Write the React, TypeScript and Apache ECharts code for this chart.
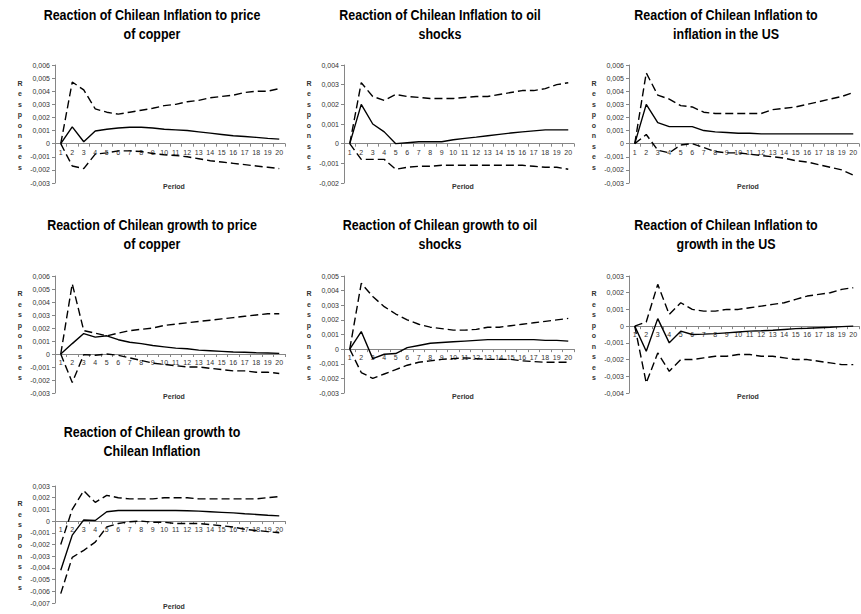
import React, { useEffect, useRef } from 'react';
import * as echarts from 'echarts';

const periods = ['1', '2', '3', '4', '5', '6', '7', '8', '9', '10', '11', '12', '13', '14', '15', '16', '17', '18', '19', '20'];

const panelTitles = [
  'Reaction of Chilean Inflation to price\nof copper',
  'Reaction of Chilean Inflation to oil\nshocks',
  'Reaction of Chilean Inflation to\ninflation in the US',
  'Reaction of Chilean growth to price\nof copper',
  'Reaction of Chilean growth to oil\nshocks',
  'Reaction of Chilean Inflation to\ngrowth in the US',
  'Reaction of Chilean growth to\nChilean Inflation',
];

const yMins = [-0.003, -0.002, -0.003, -0.003, -0.003, -0.004, -0.007];
const yMaxs = [0.006, 0.004, 0.006, 0.006, 0.005, 0.003, 0.003];

// Panel 1: Chilean inflation to price of copper
const inflCopperResp = [0, 0.00128, 0.00015, 0.00097, 0.0011, 0.0012, 0.00125, 0.00125, 0.0012, 0.0011, 0.00105, 0.001, 0.0009, 0.0008, 0.0007, 0.0006, 0.00055, 0.00048, 0.0004, 0.00035];
const inflCopperUpper = [0, 0.0047, 0.0041, 0.00265, 0.0024, 0.00225, 0.0024, 0.00255, 0.0027, 0.0029, 0.003, 0.0032, 0.0033, 0.0035, 0.0036, 0.0037, 0.0039, 0.004, 0.004, 0.0042];
const inflCopperLower = [0, -0.0017, -0.0019, -0.0008, -0.0007, -0.00055, -0.00055, -0.0006, -0.00075, -0.00085, -0.0009, -0.001, -0.00115, -0.0013, -0.0014, -0.0015, -0.0016, -0.0017, -0.0018, -0.0019];

// Panel 2: Chilean inflation to oil shocks
const inflOilResp = [0, 0.002, 0.001, 0.0006, 0, 0.00005, 0.0001, 0.0001, 0.0001, 0.0002, 0.00027, 0.00033, 0.0004, 0.00047, 0.00054, 0.0006, 0.00065, 0.0007, 0.0007, 0.0007];
const inflOilUpper = [0, 0.0031, 0.0024, 0.0022, 0.0025, 0.0024, 0.00235, 0.0023, 0.0023, 0.0023, 0.00235, 0.0024, 0.0024, 0.0025, 0.0026, 0.0027, 0.0027, 0.0028, 0.003, 0.0031];
const inflOilLower = [0, -0.0008, -0.0008, -0.0008, -0.0013, -0.0012, -0.00115, -0.00115, -0.0011, -0.0011, -0.0011, -0.0011, -0.0011, -0.0011, -0.0011, -0.0011, -0.00115, -0.0012, -0.0012, -0.0013];

// Panel 3: Chilean inflation to inflation in the US
const inflUsInflResp = [0, 0.003, 0.0016, 0.0013, 0.0013, 0.0013, 0.001, 0.0009, 0.00085, 0.0008, 0.0008, 0.00075, 0.00075, 0.00075, 0.00075, 0.00075, 0.00075, 0.00075, 0.00075, 0.00075];
const inflUsInflUpper = [0, 0.0054, 0.0037, 0.0034, 0.0029, 0.0028, 0.0024, 0.0023, 0.0023, 0.0023, 0.0023, 0.0023, 0.0026, 0.0027, 0.0028, 0.003, 0.0032, 0.0034, 0.0036, 0.0039];
const inflUsInflLower = [0, 0.0007, -0.0005, -0.0007, -0.0001, 0, -0.0003, -0.0006, -0.0007, -0.0007, -0.0008, -0.0009, -0.001, -0.0011, -0.0013, -0.0014, -0.0016, -0.0018, -0.002, -0.0024];

// Panel 4: Chilean growth to price of copper
const growthCopperResp = [0, 0.0008, 0.00157, 0.0013, 0.0014, 0.0011, 0.0009, 0.0008, 0.00065, 0.00055, 0.00045, 0.0004, 0.0003, 0.00025, 0.0002, 0.00015, 0.00013, 0.0001, 0.00008, 0.00005];
const growthCopperUpper = [0, 0.0054, 0.0018, 0.0016, 0.0014, 0.0016, 0.0018, 0.0019, 0.002, 0.0022, 0.0023, 0.0024, 0.0025, 0.0026, 0.0027, 0.0028, 0.0029, 0.003, 0.0031, 0.0031];
const growthCopperLower = [0, -0.0022, -0.00005, -0.0001, 0, -0.0001, -0.0003, -0.0005, -0.0007, -0.0008, -0.0009, -0.001, -0.001, -0.0011, -0.0012, -0.0013, -0.0013, -0.0014, -0.0014, -0.0015];

// Panel 5: Chilean growth to oil shocks
const growthOilResp = [0, 0.0012, -0.00065, -0.00035, -0.0003, 0.0001, 0.00025, 0.0004, 0.00045, 0.0005, 0.00055, 0.0006, 0.00065, 0.00065, 0.00065, 0.00065, 0.00065, 0.0006, 0.0006, 0.00055];
const growthOilUpper = [0, 0.0045, 0.0036, 0.0029, 0.0024, 0.002, 0.0017, 0.0015, 0.0014, 0.0013, 0.0013, 0.00135, 0.0015, 0.0015, 0.0016, 0.0017, 0.0018, 0.0019, 0.002, 0.0021];
const growthOilLower = [0, -0.0016, -0.002, -0.0017, -0.0014, -0.0011, -0.0009, -0.0008, -0.0007, -0.00065, -0.0006, -0.00065, -0.0007, -0.0007, -0.0007, -0.0008, -0.00085, -0.0009, -0.0009, -0.0009];

// Panel 6: Chilean inflation to growth in the US
const inflUsGrowthResp = [0, -0.0015, 0.00045, -0.001, -0.0003, -0.0005, -0.00048, -0.00045, -0.0004, -0.00035, -0.0003, -0.00028, -0.00025, -0.0002, -0.00015, -0.00013, -0.0001, -0.00007, -0.00003, 0];
const inflUsGrowthUpper = [0, 0.00025, 0.0025, 0.0007, 0.0014, 0.001, 0.0009, 0.0009, 0.001, 0.001, 0.0011, 0.0012, 0.0013, 0.0014, 0.0016, 0.0018, 0.0019, 0.002, 0.0022, 0.0023];
const inflUsGrowthLower = [0, -0.0034, -0.0016, -0.0027, -0.002, -0.002, -0.0019, -0.0018, -0.0018, -0.0017, -0.0017, -0.0018, -0.0018, -0.0019, -0.002, -0.002, -0.0021, -0.0022, -0.0023, -0.0023];

// Panel 7: Chilean growth to Chilean inflation
const growthInflResp = [-0.0042, -0.0012, 0.0001, 0.00005, 0.0008, 0.0009, 0.0009, 0.0009, 0.0009, 0.0009, 0.0009, 0.00088, 0.00085, 0.0008, 0.00075, 0.0007, 0.00063, 0.00057, 0.0005, 0.00045];
const growthInflUpper = [-0.002, 0.001, 0.0026, 0.0016, 0.0022, 0.002, 0.0019, 0.0019, 0.0019, 0.002, 0.002, 0.002, 0.0019, 0.0019, 0.0019, 0.0019, 0.0019, 0.0019, 0.002, 0.0021];
const growthInflLower = [-0.0062, -0.0031, -0.0025, -0.0018, -0.0005, -0.0002, -0.00005, 0, -0.0001, -0.0001, -0.0002, -0.0002, -0.0002, -0.0003, -0.0004, -0.0005, -0.0007, -0.0008, -0.0009, -0.001];

const responses = [inflCopperResp, inflOilResp, inflUsInflResp, growthCopperResp, growthOilResp, inflUsGrowthResp, growthInflResp];
const uppers = [inflCopperUpper, inflOilUpper, inflUsInflUpper, growthCopperUpper, growthOilUpper, inflUsGrowthUpper, growthInflUpper];
const lowers = [inflCopperLower, inflOilLower, inflUsInflLower, growthCopperLower, growthOilLower, inflUsGrowthLower, growthInflLower];

const FONT = "'Liberation Sans', Arial, sans-serif";

export default function App() {
  const ref = useRef<HTMLDivElement>(null);
  useEffect(() => {
    if (!ref.current) return;
    const chart = echarts.init(ref.current, null, { renderer: 'svg' });
    const colLefts = [55, 344, 629];
    const titleCenters = [152, 440, 726];
    const rowTops = [65, 276, 486];
    const rowHeights = [118, 117, 117];
    const titleTops = [6, 216, 423];
    const plotW = 230;

    const grids: any[] = [];
    const xAxes: any[] = [];
    const yAxes: any[] = [];
    const series: any[] = [];
    const graphics: any[] = [];

    panelTitles.forEach((t, i) => {
      const col = i % 3;
      const row = Math.floor(i / 3);
      const left = colLefts[col];
      const top = rowTops[row];
      const h = rowHeights[row];
      const zeroFromBottom = (h * (0 - yMins[i])) / (yMaxs[i] - yMins[i]);
      grids.push({ left, top, width: plotW, height: h, containLabel: false });
      graphics.push({
        type: 'text',
        x: titleCenters[col],
        y: titleTops[row],
        scaleX: 0.89,
        style: {
          text: t,
          fontFamily: FONT,
          fontSize: 14,
          fontWeight: 'bold',
          lineHeight: 18.5,
          fill: '#000',
          align: 'center',
          verticalAlign: 'top',
        },
      });
      xAxes.push({
        type: 'category',
        gridIndex: i,
        data: periods,
        boundaryGap: true,
        position: 'bottom',
        offset: -zeroFromBottom,
        axisLine: { onZero: false, lineStyle: { color: '#868686', width: 1 } },
        axisTick: { show: true, length: 3, lineStyle: { color: '#868686' } },
        axisLabel: { fontFamily: FONT, fontSize: 7, color: '#333', margin: 5, interval: 0 },
        splitLine: { show: false },
      });
      yAxes.push({
        type: 'value',
        gridIndex: i,
        min: yMins[i],
        max: yMaxs[i],
        interval: 0.001,
        axisLine: { show: true, lineStyle: { color: '#868686', width: 1 } },
        axisTick: { show: true, length: 3, lineStyle: { color: '#868686' } },
        splitLine: { show: false },
        axisLabel: {
          fontFamily: FONT,
          fontSize: 7,
          color: '#333',
          margin: 5,
          formatter: (v: number) => {
            const r = Math.round(v * 1000) / 1000;
            if (r === 0) return '0';
            return r.toFixed(3).replace('.', ',');
          },
        },
      });
      const lineBase = { type: 'line', xAxisIndex: i, yAxisIndex: i, symbol: 'none', silent: true };
      series.push({ ...lineBase, name: 'Response ' + (i + 1), data: responses[i], lineStyle: { color: '#000', width: 1.4, type: 'solid' }, z: 3 });
      series.push({ ...lineBase, name: 'Upper ' + (i + 1), data: uppers[i], lineStyle: { color: '#000', width: 1.4, type: [8, 4] }, z: 3 });
      series.push({ ...lineBase, name: 'Lower ' + (i + 1), data: lowers[i], lineStyle: { color: '#000', width: 1.4, type: [8, 4] }, z: 3 });
      graphics.push({
        type: 'text',
        x: left - 35,
        y: top + h / 2 + 1,
        style: {
          text: 'R\ne\ns\np\no\nn\ns\ne\ns',
          fontFamily: FONT,
          fontSize: 7,
          fontWeight: 'bold',
          lineHeight: 10.5,
          fill: '#333',
          align: 'center',
          verticalAlign: 'middle',
        },
      });
      graphics.push({
        type: 'text',
        x: left + plotW / 2 + 4,
        y: top + h + 3,
        style: {
          text: 'Period',
          fontFamily: FONT,
          fontSize: 7,
          fontWeight: 'bold',
          fill: '#333',
          align: 'center',
          verticalAlign: 'middle',
        },
      });
    });

    chart.setOption({
      animation: false,
      backgroundColor: '#fff',
      grid: grids,
      xAxis: xAxes,
      yAxis: yAxes,
      series,
      graphic: graphics,
    });
    return () => chart.dispose();
  }, []);
  return <div ref={ref} style={{ position: 'absolute', left: 0, top: 0, width: 861, height: 614 }} />;
}
